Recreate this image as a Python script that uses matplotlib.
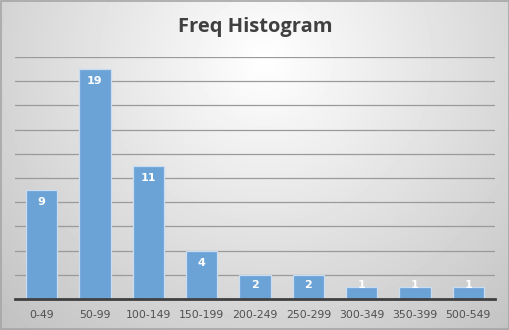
# Freq histogram, Excel-style look
import numpy as np
import matplotlib.pyplot as plt

bins = ['0-49', '50-99', '100-149', '150-199', '200-249',
        '250-299', '300-349', '350-399', '500-549']
counts = [9, 19, 11, 4, 2, 2, 1, 1, 1]

W, H = 510, 330
fig = plt.figure(figsize=(W / 100, H / 100), dpi=100)

# radial gradient background
bg = fig.add_axes([0, 0, 1, 1])
yy, xx = np.mgrid[0:H, 0:W]
r = np.sqrt(((xx - 265) / 330.0) ** 2 + ((yy - 60) / 320.0) ** 2)
shade = np.clip(1.0 - 0.21 * r, 0.76, 1.0)
bg.imshow(shade, cmap='gray', vmin=0, vmax=1, aspect='auto',
          extent=[0, 1, 0, 1], interpolation='bilinear')
bg.set_xlim(0, 1)
bg.set_ylim(0, 1)
bg.add_patch(plt.Rectangle((0.001, 0.002), 0.997, 0.995, fill=False,
                           edgecolor='#A6A6A6', linewidth=1.2))
bg.axis('off')

ax = fig.add_axes([15 / W, 1 - 299 / H, 480 / W, 242 / H])
ax.patch.set_alpha(0)
x = np.arange(len(bins))
ax.bar(x, counts, width=0.59, color='#6CA3D7', edgecolor='#C9DCF0',
       linewidth=0.9, zorder=3)

ax.set_xlim(-0.5, len(bins) - 0.5)
ax.set_ylim(0, 20)
ax.set_yticks(np.arange(2, 21, 2))
ax.yaxis.grid(True, color='#9A9A9A', linewidth=0.9, zorder=0)
ax.tick_params(axis='y', left=False, labelleft=False)
ax.tick_params(axis='x', length=0, pad=8, labelsize=7.8, labelcolor='#505050')
ax.set_xticks(x)
ax.set_xticklabels(bins, fontfamily='DejaVu Sans')
for s in ['top', 'right', 'left']:
    ax.spines[s].set_visible(False)
ax.spines['bottom'].set_color('#404040')
ax.spines['bottom'].set_linewidth(2)
ax.spines['bottom'].set_zorder(4)

for i, v in enumerate(counts):
    ax.text(i, max(v - 1, 1.15), str(v), ha='center', va='center',
            color='white', fontsize=8, fontweight='bold', zorder=5)

fig.text(0.5, 1 - 27 / H, 'Freq Histogram', ha='center', va='center',
         fontsize=14.5, fontweight='bold', color='#404040', fontfamily='Open Sans')

fig.savefig('out.png', dpi=100)
